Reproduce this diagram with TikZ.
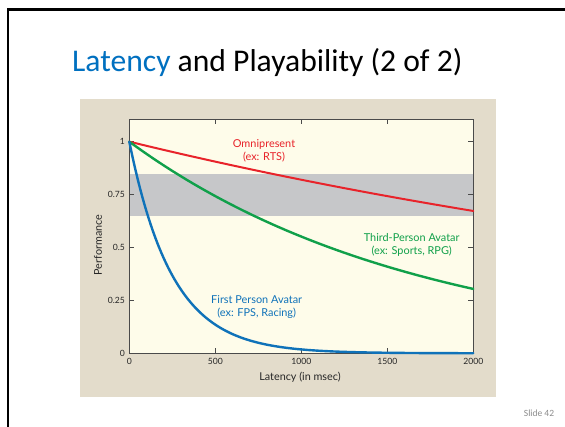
\documentclass[tikz,border=0pt]{standalone}
\usepackage{fontspec}
\setmainfont{Carlito}
\newfontfamily\chartfont{Lato}
\definecolor{titleblue}{HTML}{0070C0}
\definecolor{panelbeige}{HTML}{E3DCCB}
\definecolor{plotcream}{HTML}{FEFCEA}
\definecolor{bandgray}{HTML}{C6C7C9}
\definecolor{axisgray}{HTML}{4A4A4A}
\definecolor{omnired}{HTML}{E8232A}
\definecolor{thirdgreen}{HTML}{10A04A}
\definecolor{firstblue}{HTML}{0F72B9}
\definecolor{slidegray}{HTML}{8C8C8C}
\tikzset{
  ticklabel/.style={font=\chartfont\fontsize{8.6}{9}\selectfont, text=black!85, inner sep=0pt},
  axistitle/.style={font=\chartfont\fontsize{10.8}{12}\selectfont, text=black!85, inner sep=0pt},
  curvelabel/.style={font=\chartfont\fontsize{10.9}{12.5}\selectfont, align=center, inner sep=0pt},
  curve/.style={line width=2.4pt, line cap=round},
  frameline/.style={draw=axisgray, line width=1pt},
  tickmark/.style={draw=axisgray, line width=0.9pt}
}
\begin{document}
\begin{tikzpicture}[x=1pt,y=1pt]
\useasboundingbox (0,0) rectangle (565,426);
\fill[white] (0,0) rectangle (565,426);
% slide frame
\draw[black, line width=2.3pt] (8,-2) -- (8,416.5) -- (567,416.5);
% title
\node[anchor=base west, inner sep=0pt, font=\fontsize{31.6}{36}\selectfont] (title) at (72,354)
  {\textcolor{titleblue}{Latency} and Playability (2 of 2)};
% chart panel
\fill[panelbeige] (79.5,29.5) rectangle (495.5,326.5);
\begin{scope}[shift={(129.3pt,72.7pt)}, x=0.172pt, y=211.6pt]
  \fill[plotcream] (0,0) rectangle (2000,1.106);
  \fill[bandgray] (0,0.649) rectangle (2000,0.847);
  \draw[frameline] (0,0) rectangle (2000,1.106);
  % ticks
  \foreach \v in {0.25,0.5,0.75,1} {
    \draw[tickmark] (0,\v) -- (29,\v);
    \draw[tickmark] (2000,\v) -- (1971,\v);
  }
  \foreach \u in {500,1000,1500} {
    \draw[tickmark] (\u,0) -- (\u,0.024);
    \draw[tickmark] (\u,1.106) -- (\u,1.082);
  }
  % tick labels
  \foreach \v/\t in {0/0,0.25/0.25,0.5/0.5,0.75/0.75,1/1}
    \node[ticklabel, anchor=east] (ylab\t) at (-24,\v) {\t};
  \foreach \u in {0,500,1000,1500,2000}
    \node[ticklabel] (xlab\u) at (\u,-0.039) {\u};
  % curves
  \draw[curve, omnired, line width=2pt] plot[domain=0:2000, samples=60] (\x,{exp(-0.0002*\x)});
  \draw[curve, thirdgreen] plot[domain=0:2000, samples=80] (\x,{exp(-0.0006*\x)});
  \draw[curve, firstblue] plot[domain=0:2000, samples=160] (\x,{exp(-0.004*\x)});
\end{scope}
% axis titles
\node[axistitle] (xtitle) at (300,48.3) {Latency (in msec)};
\node[axistitle, rotate=90] (ytitle) at (98,181) {Performance};
% curve labels
\node[curvelabel, text=omnired] (omni) at (264,275) {Omnipresent\\(ex: RTS)};
\node[curvelabel, text=thirdgreen] (third) at (411.7,181.3) {Third-Person Avatar\\(ex: Sports, RPG)};
\node[curvelabel, text=firstblue] (first) at (256.7,119) {First Person Avatar\\(ex: FPS, Racing)};
% slide number
\node[inner sep=0pt, text=slidegray, font=\fontsize{9.5}{11}\selectfont] (slidenum) at (539,12.7) {Slide 42};
\end{tikzpicture}
\end{document}
